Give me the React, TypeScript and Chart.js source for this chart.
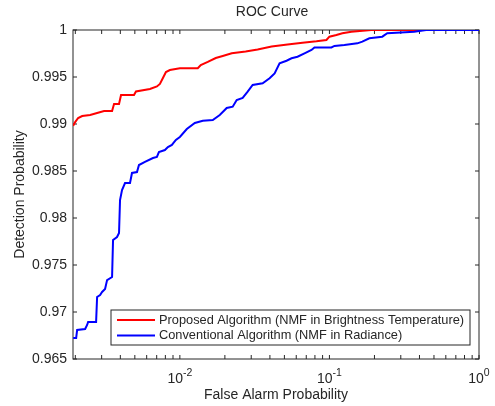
import React, { useEffect, useRef } from "react";
import { Chart, registerables } from "chart.js";

Chart.register(...registerables);

const TITLE = "ROC Curve";
const X_LABEL = "False Alarm Probability";
const Y_LABEL = "Detection Probability";
const SERIES_NAMES = [
  "Proposed Algorithm (NMF in Brightness Temperature)",
  "Conventional Algorithm (NMF in Radiance)",
];
const SERIES_COLORS = ["#ff0000", "#0000ff"];

const proposedFa = [
  0.001935, 0.001995, 0.002089, 0.002223, 0.002512, 0.002797, 0.003113, 0.003522,
  0.003631, 0.00392, 0.004043, 0.004937, 0.005088, 0.00631, 0.007023, 0.007356,
  0.007705, 0.008071, 0.008577, 0.01, 0.01318, 0.0138, 0.01537, 0.01738, 0.01935,
  0.02223, 0.02754, 0.03311, 0.04106, 0.05248, 0.06607, 0.0819, 0.0955, 0.1, 0.1113,
  0.1221, 0.1402, 0.1905, 1,
];
const proposedPd = [
  0.9898, 0.9902, 0.99064, 0.99085, 0.99096, 0.99117, 0.99138, 0.99138, 0.99213,
  0.99213, 0.99309, 0.99309, 0.99346, 0.99372, 0.99399, 0.99426, 0.99489, 0.99553,
  0.99574, 0.99593, 0.99593, 0.99628, 0.9966, 0.99702, 0.99723, 0.99752, 0.99771,
  0.99793, 0.99824, 0.99846, 0.99865, 0.9988, 0.99894, 0.99929, 0.99947, 0.99965,
  0.99982, 1, 1,
];
const conventionalFa = [
  0.001935, 0.002026, 0.002057, 0.002326, 0.002399, 0.002436, 0.002754, 0.002797,
  0.002929, 0.00302, 0.003162, 0.003262, 0.003522, 0.003575, 0.003802, 0.00392,
  0.003981, 0.004105, 0.004299, 0.004642, 0.004786, 0.005168, 0.005329, 0.005843,
  0.006607, 0.007023, 0.007244, 0.007943, 0.008318, 0.008844, 0.009404, 0.01,
  0.01113, 0.01259, 0.01424, 0.0166, 0.01848, 0.02057, 0.02256, 0.02399, 0.0263,
  0.0284, 0.03067, 0.03576, 0.03981, 0.043, 0.04642, 0.05168, 0.05581, 0.06119,
  0.06813, 0.07586, 0.07943, 0.1031, 0.108, 0.1259, 0.1537, 0.166, 0.1848, 0.2256,
  0.2436, 0.3687, 0.4433, 1,
];
const conventionalPd = [
  0.96723, 0.96723, 0.96809, 0.96819, 0.96862, 0.96894, 0.96894, 0.9716, 0.97181,
  0.97213, 0.97245, 0.9734, 0.97372, 0.97766, 0.97798, 0.9784, 0.98191, 0.98298,
  0.98372, 0.98372, 0.98479, 0.98489, 0.98564, 0.98596, 0.98638, 0.98649, 0.98702,
  0.98723, 0.98755, 0.98777, 0.9883, 0.98862, 0.98947, 0.99011, 0.99035, 0.99043,
  0.99096, 0.9917, 0.99184, 0.99255, 0.99277, 0.99344, 0.99415, 0.99433, 0.99486,
  0.99539, 0.99646, 0.99673, 0.99699, 0.99716, 0.99752, 0.99787, 0.99814, 0.99814,
  0.9983, 0.9984, 0.99858, 0.99876, 0.99912, 0.99929, 0.99965, 0.99982, 1, 1,
];

const X_MIN = 0.00193;
const X_MAX = 1;
const Y_MIN = 0.965;
const Y_MAX = 1;
const Y_STEP = 0.005;
const xTickValues = [0.01, 0.1, 1];
const xTickBase = "10";
const xTickExponents = ["-2", "-1", "0"];

const FONT = "'Liberation Sans', Arial, Helvetica, sans-serif";
const TEXT_COLOR = "#262626";
const AXIS_COLOR = "#262626";
const TICK_LEN = 4;

const toPoints = (xs: number[], ys: number[]) => xs.map((x, i) => ({ x, y: ys[i] }));

const axesBoxPlugin = {
  id: "axesBox",
  beforeDatasetsDraw(chart: any) {
    const { ctx, chartArea: a, scales } = chart;
    const xs = scales.x;
    const ys = scales.y;
    ctx.save();
    ctx.strokeStyle = AXIS_COLOR;
    ctx.lineWidth = 1;
    ctx.strokeRect(a.left, a.top, a.right - a.left, a.bottom - a.top);
    ctx.beginPath();
    ys.ticks.forEach((t: any) => {
      const p = ys.getPixelForValue(t.value);
      ctx.moveTo(a.left, p);
      ctx.lineTo(a.left + TICK_LEN, p);
      ctx.moveTo(a.right, p);
      ctx.lineTo(a.right - TICK_LEN, p);
    });
    const k0 = Math.floor(Math.log10(xs.min));
    const k1 = Math.ceil(Math.log10(xs.max));
    for (let k = k0; k <= k1; k++) {
      for (let m = 1; m < 10; m++) {
        const v = m * Math.pow(10, k);
        if (v < xs.min || v > xs.max * 1.0001) continue;
        const p = xs.getPixelForValue(v);
        ctx.moveTo(p, a.bottom);
        ctx.lineTo(p, a.bottom - TICK_LEN);
        ctx.moveTo(p, a.top);
        ctx.lineTo(p, a.top + TICK_LEN);
      }
    }
    ctx.stroke();

    // x tick labels with superscript exponents
    ctx.fillStyle = TEXT_COLOR;
    ctx.textAlign = "left";
    ctx.textBaseline = "alphabetic";
    xTickValues.forEach((v, i) => {
      const p = xs.getPixelForValue(v);
      ctx.font = `14px ${FONT}`;
      const w1 = ctx.measureText(xTickBase).width;
      ctx.font = `10.5px ${FONT}`;
      const w2 = ctx.measureText(xTickExponents[i]).width;
      const start = p - (w1 + w2) / 2;
      ctx.font = `14px ${FONT}`;
      ctx.fillText(xTickBase, start, a.bottom + 24);
      ctx.font = `10.5px ${FONT}`;
      ctx.fillText(xTickExponents[i], start + w1, a.bottom + 17);
    });
    ctx.restore();
  },
  afterDatasetsDraw(chart: any) {
    const { ctx, chartArea: a } = chart;
    const x0 = a.left + 38;
    const x1 = a.right - 9;
    const y0 = a.bottom - 49;
    const y1 = a.bottom - 14;
    ctx.save();
    ctx.fillStyle = "#ffffff";
    ctx.fillRect(x0, y0, x1 - x0, y1 - y0);
    ctx.strokeStyle = AXIS_COLOR;
    ctx.lineWidth = 1;
    ctx.strokeRect(x0, y0, x1 - x0, y1 - y0);
    ctx.font = `12.8px ${FONT}`;
    ctx.textBaseline = "middle";
    ctx.textAlign = "left";
    chart.data.datasets.forEach((ds: any, i: number) => {
      const yy = y0 + 10 + i * 15.5;
      ctx.strokeStyle = ds.borderColor;
      ctx.lineWidth = 2;
      ctx.beginPath();
      ctx.moveTo(x0 + 6, yy);
      ctx.lineTo(x0 + 44, yy);
      ctx.stroke();
      ctx.fillStyle = TEXT_COLOR;
      ctx.fillText(ds.label, x0 + 48, yy);
    });
    ctx.restore();
  },
  afterDraw(chart: any) {
    const { ctx, chartArea: a } = chart;
    ctx.save();
    ctx.font = `14px ${FONT}`;
    ctx.fillStyle = TEXT_COLOR;
    ctx.textAlign = "center";
    ctx.textBaseline = "middle";
    ctx.fillText(TITLE, (a.left + a.right) / 2 - 4, 12);
    ctx.restore();
  },
};

export default function App() {
  const ref = useRef<HTMLCanvasElement | null>(null);
  useEffect(() => {
    if (!ref.current) return;
    Chart.defaults.font.family = FONT;
    Chart.defaults.font.size = 14;
    Chart.defaults.color = TEXT_COLOR;
    const chart = new Chart(ref.current, {
      type: "line",
      data: {
        datasets: [
          {
            label: SERIES_NAMES[0],
            data: toPoints(proposedFa, proposedPd),
            borderColor: SERIES_COLORS[0],
            backgroundColor: SERIES_COLORS[0],
            borderWidth: 2,
            pointRadius: 0,
            tension: 0,
            order: 1,
          },
          {
            label: SERIES_NAMES[1],
            data: toPoints(conventionalFa, conventionalPd),
            borderColor: SERIES_COLORS[1],
            backgroundColor: SERIES_COLORS[1],
            borderWidth: 2,
            pointRadius: 0,
            tension: 0,
            order: 0,
          },
        ],
      },
      options: {
        responsive: false,
        animation: false,
        devicePixelRatio: 1,
        layout: { padding: { left: 6, right: 16, top: 30, bottom: 0 } },
        plugins: {
          legend: { display: false },
          title: { display: false },
          tooltip: { enabled: false },
        },
        scales: {
          x: {
            type: "logarithmic",
            min: X_MIN,
            max: X_MAX,
            grid: { display: false, drawTicks: false },
            border: { display: false },
            afterBuildTicks: (axis: any) => {
              axis.ticks = xTickValues.map((v) => ({ value: v }));
            },
            afterFit: (scale: any) => {
              scale.height = 47;
              scale.paddingLeft = 0;
              scale.paddingRight = 0;
            },
            ticks: { display: false },
            title: {
              display: true,
              text: X_LABEL,
              font: { size: 14 },
              padding: { top: 0, bottom: 2.6 },
            },
          },
          y: {
            type: "linear",
            min: Y_MIN,
            max: Y_MAX,
            grid: { display: false, drawTicks: false },
            border: { display: false },
            afterFit: (scale: any) => {
              scale.width = 67;
              scale.paddingTop = 0;
              scale.paddingBottom = 0;
            },
            ticks: {
              stepSize: Y_STEP,
              padding: 6,
              font: { size: 14 },
              callback: (v: any) => String(+Number(v).toFixed(3)),
            },
            title: {
              display: true,
              text: Y_LABEL,
              font: { size: 14 },
              padding: { top: 5.6, bottom: 0 },
            },
          },
        },
      },
      plugins: [axesBoxPlugin],
    } as any);
    return () => chart.destroy();
  }, []);
  return (
    <div style={{ position: "absolute", left: 0, top: 0, width: 495, height: 406, background: "#fff" }}>
      <canvas ref={ref} width={495} height={406} />
    </div>
  );
}
